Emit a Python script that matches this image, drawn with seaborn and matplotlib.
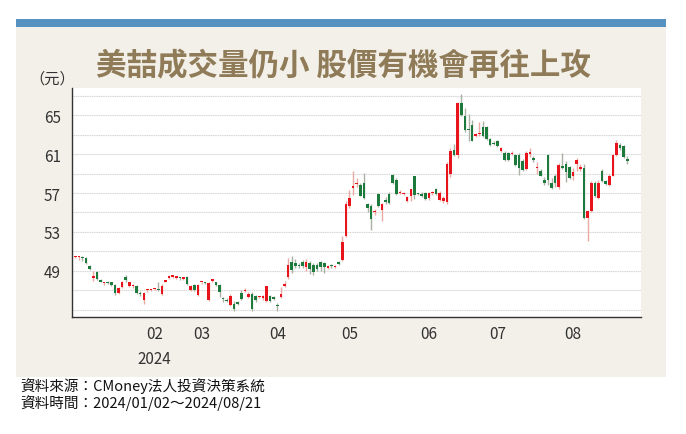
import numpy as np
import pandas as pd
import seaborn as sns
import matplotlib.pyplot as plt
from matplotlib.patches import Rectangle

# daily OHLC (TWD), 2024-01-02 .. 2024-08-21
opens = [
    50.4, 50.4, 50.4, 50.3, 49.5, 48.3, 48.9, 48.0, 47.7, 47.9, 47.85, 47.5, 46.7, 47.3, 48.4, 47.4, 47.4, 47.4, 46.75, 46.0, 47.0, 47.0,
    47.1, 47.1, 46.6, 47.9, 48.3, 48.4, 48.3, 48.3, 48.2, 48.4, 47.0, 47.5, 46.5,
    47.8, 47.8, 46.0, 48.0, 47.8, 47.5, 46.1, 46.0, 45.5, 45.6, 45.8, 46.7, 46.9, 46.3, 46.6, 46.4, 46.3, 46.2, 45.9, 46.4, 46.3,
    45.5, 46.3, 47.4, 48.4, 49.9, 49.8, 49.6, 49.9, 49.4, 49.8, 49.6, 49.6, 49.9, 49.8, 49.3, 49.6, 49.4, 49.9, 50.1, 52.6,
    55.7, 57.5, 57.9, 57.8, 58.0, 55.9, 55.7, 55.0, 56.85, 55.3, 56.3, 56.85, 58.9, 58.3, 57.0, 56.9, 56.2, 56.7, 58.7, 56.9, 56.9, 57.0,
    56.5, 57.0, 57.4, 56.3, 56.2, 56.1, 59.0, 61.4, 60.9, 66.3, 64.9, 63.6, 64.0, 62.9, 63.1, 63.8, 63.8, 62.6, 62.1,
    62.3, 61.3, 61.15, 61.1, 61.0, 60.9, 60.9, 60.3, 59.5, 61.0, 60.6, 59.6, 59.3, 58.3, 60.9, 58.0, 58.8, 57.6, 59.8, 60.0, 59.7,
    58.8, 60.0, 59.5, 59.6, 54.4, 55.2, 58.0, 56.5, 59.3, 58.2, 57.8, 58.8, 60.9, 61.9, 61.8, 60.5,
]
highs = [
    50.5, 50.5, 50.5, 50.4, 49.6, 49.0, 49.0, 48.2, 47.9, 48.0, 47.9, 47.6, 47.3, 48.0, 48.6, 47.9, 47.6, 47.5, 46.9, 46.8, 47.1, 47.1,
    47.2, 47.9, 47.6, 48.1, 48.6, 48.5, 48.4, 48.4, 48.3, 48.5, 47.5, 47.6, 47.6,
    47.9, 47.9, 47.8, 48.1, 47.9, 47.6, 46.3, 46.2, 46.6, 45.9, 45.9, 47.0, 47.2, 46.8, 46.8, 46.5, 46.4, 46.5, 47.4, 46.5, 46.4,
    45.7, 47.3, 48.0, 50.3, 50.5, 50.2, 49.8, 50.1, 50.2, 50.0, 49.8, 49.8, 50.0, 49.9, 49.6, 49.7, 49.6, 50.0, 52.6, 56.2,
    57.3, 59.3, 58.5, 58.0, 59.1, 56.0, 55.9, 55.4, 57.0, 56.0, 56.6, 57.1, 59.0, 58.5, 57.3, 57.1, 56.7, 57.4, 58.8, 57.0, 57.1, 57.1,
    57.1, 57.2, 57.5, 57.2, 56.7, 60.2, 61.6, 62.0, 66.4, 67.2, 65.7, 65.1, 64.5, 63.2, 64.3, 64.4, 63.9, 62.7, 62.4,
    62.5, 61.7, 61.3, 61.2, 61.3, 61.0, 61.1, 60.5, 61.3, 61.6, 60.8, 60.2, 59.5, 58.6, 61.0, 58.5, 59.0, 60.1, 61.1, 60.3, 59.8,
    59.6, 60.6, 60.0, 60.0, 55.3, 58.2, 58.2, 58.3, 59.5, 58.3, 59.0, 61.0, 62.5, 62.1, 61.9, 60.8,
]
lows = [
    50.3, 50.1, 50.0, 49.7, 49.1, 48.0, 48.1, 47.8, 47.5, 47.6, 47.4, 46.5, 46.6, 47.2, 47.9, 47.3, 47.2, 46.6, 46.4, 45.6, 46.8, 46.9,
    47.0, 46.9, 46.5, 47.8, 48.2, 48.3, 48.2, 48.1, 48.1, 47.5, 46.9, 46.9, 46.4,
    47.6, 47.6, 45.9, 47.8, 47.4, 46.3, 45.8, 45.8, 45.4, 44.9, 45.5, 46.0, 46.8, 46.2, 44.9, 45.8, 46.2, 46.0, 45.8, 45.8, 46.0,
    44.9, 46.2, 47.3, 48.2, 48.8, 49.3, 49.3, 49.3, 49.0, 48.7, 48.6, 49.0, 49.0, 48.8, 49.2, 49.3, 49.3, 49.6, 50.0, 52.5,
    55.5, 56.8, 57.6, 56.7, 56.4, 55.0, 53.2, 54.7, 55.6, 54.1, 55.9, 55.9, 57.9, 56.8, 56.9, 56.8, 56.1, 56.2, 56.4, 56.8, 56.6, 56.3,
    56.3, 56.8, 56.8, 56.2, 56.0, 55.9, 58.6, 60.8, 60.6, 64.9, 63.3, 62.4, 62.4, 62.8, 62.9, 62.8, 62.5, 61.8, 61.9,
    61.7, 61.2, 60.3, 60.3, 60.9, 59.8, 58.9, 59.3, 59.4, 60.7, 60.2, 59.0, 58.7, 57.8, 57.8, 57.4, 57.6, 57.4, 59.5, 58.1, 58.4,
    58.3, 59.3, 59.3, 54.3, 52.1, 55.0, 56.6, 56.4, 58.1, 57.8, 57.7, 58.7, 60.8, 61.4, 60.6, 60.0,
]
closes = [
    50.4, 50.4, 50.35, 49.8, 49.2, 48.5, 48.2, 47.9, 47.8, 47.7, 47.5, 46.7, 47.2, 47.85, 48.05, 47.8, 47.5, 46.7, 46.6, 46.7, 47.0, 47.05,
    47.1, 47.0, 47.4, 48.0, 48.5, 48.4, 48.3, 48.25, 48.2, 47.6, 47.4, 47.0, 47.5,
    47.8, 47.75, 47.7, 48.0, 47.5, 46.8, 46.05, 45.9, 46.4, 45.1, 45.6, 46.1, 47.0, 46.6, 45.1, 46.0, 46.3, 46.4, 47.4, 45.9, 46.1,
    45.4, 46.6, 47.6, 49.6, 49.1, 49.5, 49.5, 49.5, 49.9, 49.2, 48.9, 49.2, 49.4, 49.4, 49.5, 49.45, 49.5, 49.7, 52.0, 55.9,
    56.5, 57.7, 58.0, 56.7, 56.5, 55.5, 54.3, 55.1, 55.7, 55.9, 56.1, 56.0, 58.0, 56.9, 57.1, 57.0, 56.6, 57.4, 56.8, 56.85, 56.7, 56.4,
    57.0, 57.05, 56.9, 57.0, 56.5, 60.0, 61.3, 60.9, 66.3, 65.0, 63.5, 63.5, 62.4, 63.1, 63.1, 62.9, 62.6, 61.9, 62.0,
    61.8, 61.6, 60.4, 60.4, 61.05, 59.9, 59.6, 59.4, 61.1, 61.2, 60.4, 59.7, 58.8, 58.0, 58.3, 57.5, 58.0, 59.85, 59.6, 59.2, 58.5,
    59.2, 60.4, 59.7, 54.4, 55.2, 58.0, 56.7, 58.0, 58.2, 57.95, 58.8, 60.9, 62.1, 61.6, 60.7, 60.3,
]

month_labels = ["02", "03", "04", "05", "06", "07", "08"]
month_starts = [22, 35, 56, 76, 98, 117, 138]   # index of first trading day
ytick_values = [49, 53, 57, 61, 65]

title = "美喆成交量仍小 股價有機會再往上攻"
source_lines = ["資料來源：CMoney法人投資決策系統", "資料時間：2024/01/02～2024/08/21"]

UP = "#e8141c"
DOWN = "#1b7a3c"
UP_WICK = "#eaa9a2"
DOWN_WICK = "#aab2a4"

sns.set_style("white")
plt.rcParams["font.family"] = ["Noto Sans CJK TC", "DejaVu Sans"]

df = pd.DataFrame({"open": opens, "high": highs, "low": lows, "close": closes})
df["day"] = np.arange(len(df))
df["up"] = df["close"] >= df["open"]

fig = plt.figure(figsize=(6.86, 4.35), dpi=100)
fig.patch.set_facecolor("white")

# beige panel and blue header bar
fig.add_artist(Rectangle((16 / 686, 1 - 378 / 435), 650 / 686, 350 / 435,
                         transform=fig.transFigure, facecolor="#f3f0e9", edgecolor="none", zorder=0))
fig.add_artist(Rectangle((16 / 686, 1 - 28 / 435), 650 / 686, 8 / 435,
                         transform=fig.transFigure, facecolor="#5592c0", edgecolor="none", zorder=0))

ax = fig.add_axes([72 / 686, 1 - 318 / 435, 569 / 686, 229 / 435])
ax.set_facecolor("white")

wick_colors = np.where(df["up"], UP_WICK, DOWN_WICK)
ax.vlines(df["day"], df["low"], df["high"], colors=wick_colors, linewidth=1.0, zorder=2)

body_bottom = df[["open", "close"]].min(axis=1)
body_height = (df["close"] - df["open"]).abs().clip(lower=0.12)
body_colors = np.where(df["up"], UP, DOWN)
ax.bar(df["day"], body_height, bottom=body_bottom, width=0.72,
       color=body_colors, edgecolor="none", zorder=3)

ax.set_xlim(-0.9, 156.8)
ax.set_ylim(44.25, 67.8)
ax.set_yticks(np.arange(45, 68, 2), minor=True)
ax.set_yticks(ytick_values)
ax.grid(which="both", axis="y", color="#d4d4d4", linewidth=0.8, linestyle=(0, (1, 0.6)))
ax.grid(False, axis="x")
ax.set_axisbelow(True)
ax.set_xticks(month_starts)
ax.set_xticklabels(month_labels)
ax.tick_params(axis="both", which="both", length=0, labelsize=11, colors="#333333")
ax.tick_params(axis="x", pad=6)
ax.tick_params(axis="y", pad=8)

for side in ["top", "right"]:
    ax.spines[side].set_visible(False)
for side in ["left", "bottom"]:
    ax.spines[side].set_color("#333333")
    ax.spines[side].set_linewidth(1.0)

ax.text(month_starts[0], -0.18, "2024", transform=ax.get_xaxis_transform(),
        ha="center", va="center", fontsize=11, color="#333333")

fig.text(343 / 686, 1 - 66 / 435, title, ha="center", va="center",
         fontsize=22, fontweight="bold", color="#8f7b57")
fig.text(52 / 686, 1 - 79 / 435, "（元）", ha="center", va="center",
         fontsize=11, color="#333333")
fig.text(20 / 686, 1 - 386 / 435, source_lines[0], ha="left", va="center",
         fontsize=10.5, color="#111111")
fig.text(20 / 686, 1 - 403 / 435, source_lines[1], ha="left", va="center",
         fontsize=10.5, color="#111111")

fig.savefig("out.png", dpi=100, facecolor=fig.get_facecolor())
